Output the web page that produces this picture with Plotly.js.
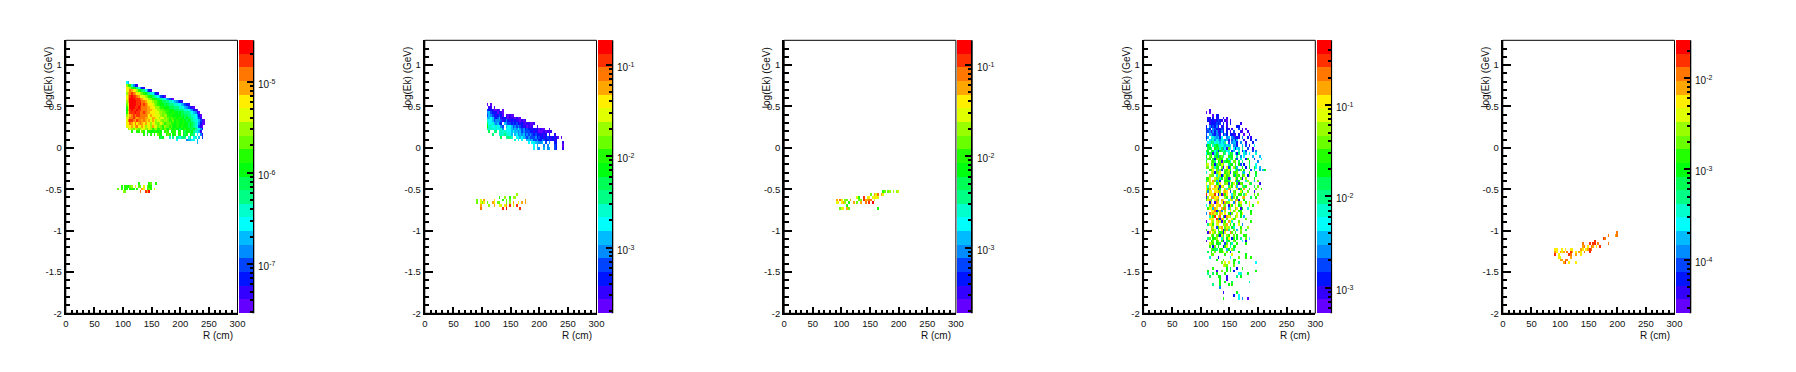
<!DOCTYPE html>
<html><head><meta charset="utf-8">
<script src="https://cdn.plot.ly/plotly-3.0.1.min.js"></script>
<style>html,body{margin:0;padding:0;background:#fff}#plot{width:1796px;height:372px}</style>
</head><body><div id="plot"></div>
<script>
// Each row: [row index in the 100x100 histogram, first column, colour band per cell]
// Band chars: 0-9 a-j = palette band 0..19, "." = empty bin.
const panel1Rows = [
[84,35,"65"],[83,35,"dbb7421"],[82,35,"fedbaa86421"],[81,35,"efhgfedba986421"],
[80,35,"dghihgfedcba9876421"],[79,35,"egijiihgfeedcba98765320"],
[78,35,"egjjjiiihgfeedcbaa9887654310"],[77,35,"dgjjjjiiihhgfeedccbaa998877654321"],
[76,35,"cfjjjjiijhihgffedcbbaa9a9888776654321"],[75,35,"bejjjiijihhhggffeddcbbaaa999888776543210"],
[74,35,"agijiijiihhhgggffeddccbbbaaa99988877654210"],[73,35,"bfiiijiihhihggfffeeddccbbaabaa9a99888765420"],
[72,35,"dfghihiihhhhgfgffeeedcddbbbaaaaa9a9988776420"],[71,35,"efhhihghhhhggfeggfedeecdcbcbbaabaa9a98876531"],
[70,35,"ehiihgihhghgfgegfdeedcddcbbcabbaaba9a987765310"],[69,35,"ffhgfhfghgfgefdfedcdedbcccbbabbaabaa9a98764200"],
[68,35,"effgeghfegfdefdgeecdcbdccbcaabbabaaa9a9876310"],[67,36,"dedcedcdeedcedbcdbbcbcbacbabaa9aabaa99a87642"],
[66,38,"b..bb.cb.bbaabbaba.bcb.abb.ab.a9aa9a87651"],[65,45,"b.a.b.b.cba..bcb.ab.bb.a9a.a98.6.41"],
[64,54,"a9a...7.8.876898.78.67.5.3"],[63,64,"6.....45566.5"],[62,76,"5"],
[47,42,"b.....bc..b"],[46,32,"b.bbacd.e.cc.e.cbb"],[45,30,"c.b.bb.bbb.b..gf.bcb.e"],[44,33,"dc........h..igj"]
];
const panel2Rows = [
[76,36,"0.0"],[75,36,".11.0"],[74,36,"32210010.0"],[73,36,"4532120210"],[72,36,"3543212320.10100"],
[71,36,"55653235122101110100"],[70,36,"76653444312421212110101"],[69,36,"966754532.543323232121011001"],
[68,36,"a776676643.5665343432120101..0"],[67,36,"8777676774.66654546434232212120100..0"],
[66,36,".9..88.7777766565545343332212100010101"],[65,36,"...8...77787765.5645453434323221212.1..1"],
[64,36,"........9..8887..6656543433342322123212120.0"],[63,36,"................7.6.6..554533422432231212"],
[62,36,"........................6.6655445.3.4..22...1"],[61,36,"...........................6.5...4.4...32...0"],
[60,36,"...........................6.54..5.45..32...1"],
[43,53,"d"],[42,43,"b..d..b.dd"],[41,30,"c.e.g.....f....b.c.c........g"],
[40,30,"c.ecf.c..gf.cc...c.d.g..f.g.g"],[39,32,"g....d..g..ee.fg.i.e.i"],[38,32,"h............i.j.......i"]
];
const panel3Rows = [
[44,57,"bc.cd.d.de"],[43,50,"c.geh.ge"],[42,42,"eb..i.ef.effe"],
[41,30,"g.hf.cc.g....cc.igghh.e"],[40,30,"ef.fgd.b..g.c.g..h.i.j"],[39,36,"b"],[38,32,"cef.gc................b"]
];
const panel4Rows = [
[74,36,"..1"],[73,36,"0.0"],[72,36,"....0.22"],[71,36,".12.2.12..1.1"],[70,36,".212212321.10.1"],
[69,36,"..1222323.2.1.2.....1"],[68,36,"2.423241.13.1.....22"],[67,36,"142.4321232.21.1...3.1.0"],
[66,36,"33414241241.2.1.3...10..1"],[65,36,"3.5532431.242.2211.2..0..1"],[64,36,"25.6754526..45.43121.4..2.1"],
[63,36,"4.657465476451.3525...1...2..3"],[62,36,".67986765658.3.4552.4..1...2"],[61,36,"4a9.79a87675757.452..5.3.1..6"],
[60,36,".9a8.a9b79461c6.6265.8..3..1"],[59,36,"9a.9a682a97967.35..7.263...3.4"],[58,36,"6a9b17a8..b8.7b9.629..75.6...7"],
[57,36,"a.cb.9a4bc7..b9a..8.4.6....5...5"],[56,36,"7cb.a2cdba..b6c9.b3.7..2b...3...6"],[55,36,"b..cb8.ac1d9ab7.cc.9.8...a....4"],
[54,36,"de.bc29dbec..8ba.b.a3.2..9...6"],[53,36,"cc.fd7ba.c1.e39.da5..a.2.a..a6.5"],[52,36,"..bbe.c5d3.cbea..6b4c.a...3.7..4.5a"],
[51,36,"7..ed2cdf..bcd3.bbc..85..b...a"],[50,36,"..dcc.7ed29ebc..a4cb.bc.2d...9"],[49,36,"bbf..ecd7a.cb18..ea.c2.d....a"],
[48,36,"8ce.gc5d2..ba9e..c4a...7d...5.c"],[47,36,"e.dfe.a8f..cd3.be.a1cb...c9....1"],[46,36,"e7f..gec2fd..9eb.f5..d8b....9.c"],
[45,36,"fbg.fee2b..d6gc...e3a.g..b...c..b"],[44,36,"d4ef.ffgc.egf.3.cb..ea..c...1"],[43,36,"i.ffei.2e1hbf..6dc.bb.8e....c.c"],
[42,36,"3d.ggefg...db.f4c.a..eg...9..b"],[41,36,"beg9.egb.gf..6fd.cg2..a"],[40,36,"..2f.1ge.f1gcd..4g.cf..b.e....e"],
[39,36,"6.cfg.feg.ec.1fb.e.ac....e.b"],[38,36,".bef5ge..gbh.5d..cf.1a..7"],[37,36,"...ffh2ag4.d..f.ce.bb.....a"],
[36,36,"4.hfgec.ge.f.b3c..e.af....b"],[35,36,"..7fbi.fh.b1gfd..ce.a.5"],[34,36,"..eff.ia2ge.c..fbd.....c"],
[33,36,"0..fd.ege1eb.gf7...c......b"],[32,36,".8efb.ef..cdg.b.a..e.4"],[31,36,"...de.3bfg.ced.a7...b...d"],
[30,36,"b..gce.a.f2bg8..c.5.d..9"],[29,36,".1g.ec.dab1e..hc.b..c"],[28,36,"...db.ca2e8.db..c.a...bb"],
[27,36,".8c.abd..7c.af.2b.a.8..c.6"],[26,36,"0..ac.bd.b1.8a..cb...6.2"],[25,36,"..ecb.ab9..3c.a7..b....b"],
[24,36,"..b.2c.a..2be.7.ab"],[23,36,"...ca98.bb..5a.d8"],[22,36,".9.a.c..bbe.c.2....a"],
[21,36,"...cc......b...e.......a"],[20,36,"..7....2......6....c...b..b"],[19,36,"......a...c.....ba"],
[18,36,".........c.e.e..b..8.........6"],[17,36,"..........edc...c"],[16,36,"....b.......a.9...2..b"],
[15,36,".a....1..c..b.a.2............a"],[14,36,".8..9.a....b.......67...a"],[13,36,"..9....aa...1.....8.a"],
[12,36,"........a...1"],[11,36,"........a..a...9.........7"],[10,36,"....8...a....a.b"],[9,36,"........4"],
[7,36,"..........1.......a"],[6,36,"................2..6"],[5,36,"..........b........6.4..0"]
];
const panel5Rows = [
[29,66,"h"],[28,61,"h...gh"],[27,58,"ih"],[26,53,"i"],[25,46,"h...i.ii.h.....h"],[24,46,"gh.f.hg.f.i"],
[23,30,"ff..f.f..ff....gf.fgih"],[22,30,"gf.gfg.h.ig.f.gf.h..i"],[21,30,"i.f.....ih..g..f"],[20,32,"fe.....g"],
[19,33,"gg.hh"],[18,35,"gi.f...f"]
];
// x tick labels, y tick labels, axis titles, colour-scale range (log10) and decade labels per panel
const xTickVals = [0,50,100,150,200,250,300];
const xTickText = ["0","50","100","150","200","250","300"];
const yTickVals = [-2,-1.5,-1,-0.5,0,0.5,1];
const yTickText = ["-2","-1.5","-1","-0.5","0","0.5","1"];
const xTitle = "R (cm)";
const yTitle = "log(Ek) (GeV)";
const panelRows = [panel1Rows,panel2Rows,panel3Rows,panel4Rows,panel5Rows];
const logMin = [-7.54,-3.72,-3.72,-3.28,-4.586];
const logMax = [-4.546,-0.73,-0.73,-0.291,-1.582];
const decades = [[-7,-6,-5],[-3,-2,-1],[-3,-2,-1],[-3,-2,-1],[-4,-3,-2]];
const bandHues = [263.2,252,235.2,224,207.2,196,179.2,168,151.2,140,123.2,112,95.2,84,67.2,56,39.2,28,11.2,0];

const W=1796,H=372,frameTop=40.3,frameBot=313.3;
const rights=[237.5,596.5,955.9,1315.3,1674.5];
const plotW=171.7;
const colorscale=[];
bandHues.forEach((h,i)=>{const c=`hsl(${h},100%,50%)`;colorscale.push([i/20,c],[(i+1)/20,c]);});
const clearScale=[[0,'rgba(0,0,0,0)'],[1,'rgba(0,0,0,0)']];
const BANDS="0123456789abcdefghij";
const data=[],shapes=[],annotations=[],layout={};
const textFont={family:'"Liberation Sans",Arial,sans-serif',size:10,color:'#111'};
panelRows.forEach((rows,p)=>{
  const lo=logMin[p],hi=logMax[p];
  const z=[];for(let r=0;r<100;r++)z.push(new Array(100).fill(null));
  rows.forEach(([r,c0,s])=>{[...s].forEach((ch,i)=>{const b=BANDS.indexOf(ch);if(b>=0)z[r][c0+i]=lo+(b+0.5)*(hi-lo)/20;});});
  const n=p?String(p+1):'';
  const right=rights[p],left=right-plotW,cbX=right+1.5,cbR=cbX+13.5;
  const cbBase={x:cbX/W,xanchor:'left',xpad:0,y:1-frameBot/H,yanchor:'bottom',ypad:0,len:(frameBot-frameTop)/H,lenmode:'fraction',
    thickness:13.5,thicknessmode:'pixels',outlinewidth:0,borderwidth:0,ticks:'inside',tickcolor:'#000',tickwidth:2,tickmode:'array',showticklabels:false};
  data.push({type:'heatmap',x0:1.5,dx:3,y0:-1.9835,dy:0.033,z,zmin:lo,zmax:hi,zauto:false,zsmooth:false,colorscale,hoverongaps:false,
    xaxis:'x'+n,yaxis:'y'+n,
    colorbar:Object.assign({},cbBase,{ticklen:6,tickvals:decades[p]})});
  const minor=[];
  for(let d=Math.floor(lo);d<Math.ceil(hi);d++)for(let m=2;m<10;m++){const v=d+Math.log10(m);if(v>lo&&v<hi)minor.push(v);}
  data.push({type:'heatmap',x:[-100],y:[0],z:[[lo]],zmin:lo,zmax:hi,zauto:false,colorscale:clearScale,hoverinfo:'skip',
    xaxis:'x'+n,yaxis:'y'+n,
    colorbar:Object.assign({},cbBase,{ticklen:3,tickvals:minor})});
  decades[p].forEach(d=>{
    const py=frameBot-(d-lo)/(hi-lo)*(frameBot-frameTop);
    annotations.push({text:`10<sup>${d}</sup>`,xref:'paper',yref:'paper',x:(cbR+4.8)/W,y:1-(py+2)/H,xanchor:'left',yanchor:'middle',showarrow:false,font:textFont,borderpad:0});
  });
  const axFont={family:'"Liberation Sans",Arial,sans-serif',size:9.5,color:'#111'};
  layout['xaxis'+n]={domain:[left/W,right/W],range:[0,300],anchor:'y'+n,tickmode:'array',tickvals:xTickVals,ticktext:xTickText,
    ticks:'inside',ticklen:6,tickwidth:2,tickcolor:'#000',tickfont:axFont,showgrid:false,zeroline:false,showline:true,linecolor:'#000',linewidth:2,
    minor:{tickmode:'linear',tick0:0,dtick:10,ticks:'inside',ticklen:3,tickwidth:2,tickcolor:'#000',showgrid:false}};
  layout['yaxis'+n]={domain:[1-frameBot/H,1-frameTop/H],range:[-2,1.3],anchor:'x'+n,tickmode:'array',tickvals:yTickVals,ticktext:yTickText,
    ticks:'inside',ticklen:8,tickwidth:2,tickcolor:'#000',tickfont:axFont,showgrid:false,zeroline:false,showline:true,linecolor:'#000',linewidth:2,
    minor:{tickmode:'linear',tick0:-2,dtick:0.1,ticks:'inside',ticklen:4.5,tickwidth:2,tickcolor:'#000',showgrid:false}};
  shapes.push({type:'rect',xref:'paper',yref:'paper',x0:left/W,x1:right/W,y0:1-frameBot/H,y1:1-frameTop/H,line:{color:'#000',width:1},layer:'above'});
  shapes.push({type:'line',xref:'paper',yref:'paper',x0:(cbR+0.8)/W,x1:(cbR+0.8)/W,y0:1-frameBot/H,y1:1-frameTop/H,line:{color:'#000',width:2},layer:'above'});
  annotations.push({text:xTitle,xref:'paper',yref:'paper',x:(right-3)/W,y:1-335/H,xanchor:'right',yanchor:'middle',showarrow:false,font:textFont});
  annotations.push({text:yTitle,xref:'paper',yref:'paper',x:(left-17.5)/W,y:1-45/H,xanchor:'center',yanchor:'top',textangle:-90,showarrow:false,font:textFont});
});
Object.assign(layout,{width:W,height:H,margin:{l:0,r:0,t:0,b:0,pad:0},paper_bgcolor:'#fff',plot_bgcolor:'#fff',showlegend:false,shapes,annotations});
Plotly.newPlot('plot',data,layout,{displayModeBar:false,staticPlot:true});
</script></body></html>
